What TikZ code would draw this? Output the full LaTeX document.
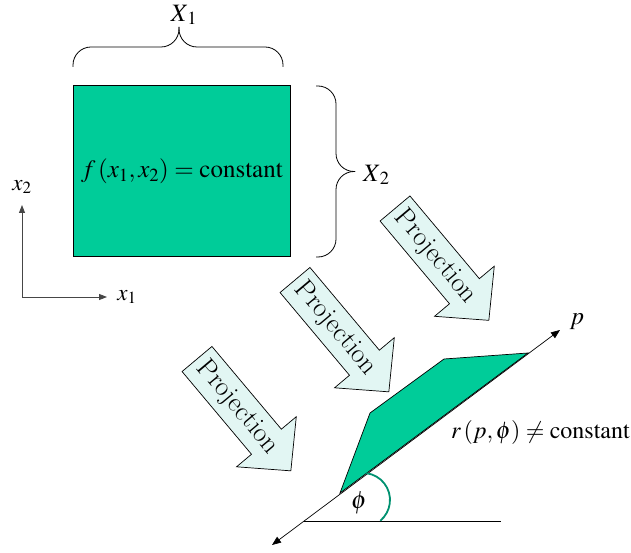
\documentclass[tikz,border=0pt]{standalone}
\usepackage{mathptmx}
\usetikzlibrary{arrows.meta}
\definecolor{slabgreen}{RGB}{0, 204, 153}
\definecolor{arcgreen}{RGB}{0, 145, 112}
\definecolor{projfill}{RGB}{226, 246, 243}
\definecolor{axisgray}{RGB}{70, 70, 70}

\begin{document}
\begin{tikzpicture}[x=1pt, y=1pt,
  lbl/.style={inner sep=0pt, font=\fontsize{25}{30}\selectfont},
  smalllbl/.style={inner sep=0pt, font=\fontsize{23}{27}\selectfont},
  projtext/.style={inner sep=0pt, font=\fontsize{27.5}{32}\selectfont},
  bracecurve/.style={rounded corners=18pt, line width=0.8pt},
  projarrow/.style={draw, line width=0.7pt, fill=projfill},
  axisarrow/.style={axisgray, line width=0.9pt, -{Triangle[length=8pt, width=6pt]}},
  projline/.style={line width=0.7pt, {Triangle[length=9pt, width=7pt]}-{Triangle[length=9pt, width=7pt]}}]
  \useasboundingbox (0,0) rectangle (631,552);

  % object and its extents
  \node[draw, line width=0.8pt, fill=slabgreen, minimum width=217pt, minimum height=171pt, inner sep=0pt, anchor=south west] (slab) at (73,295) {};
  \node[lbl] (fval) at (slab.center) {$f\,(x_1, x_2) = \mathrm{constant}$};
  \draw[bracecurve] (73,485) -- (73,505) -- (179,505) -- (179,525);
  \draw[bracecurve] (179,525) -- (179,505) -- (283,505) -- (283,485);
  \node[lbl] (xone) at (184,537) {$X_{\,1}$};
  \draw[bracecurve] (316,466) -- (336,466) -- (336,380.5) -- (355,380.5);
  \draw[bracecurve] (355,380.5) -- (336,380.5) -- (336,295) -- (316,295);
  \node[lbl, anchor=west] (xtwo) at (363,377) {$X_{\,2}$};

  % axes
  \coordinate (orig) at (22,255);
  \coordinate (xend) at (107,255);
  \coordinate (yend) at (22,347);
  \draw[axisarrow] (orig) -- (xend);
  \draw[axisarrow] (orig) -- (yend);
  \node[smalllbl] (xlbl) at (127,255) {$x_1$};
  \node[smalllbl] (ylbl) at (22,365) {$x_2$};

  % projection arrows
  \foreach \i/\tx/\ty in {1/395/343.5, 2/295/272, 3/197/193} {
    \begin{scope}[shift={(\tx,\ty)}, rotate=-50]
      \draw[projarrow] (0,19.5) -- (108,19.5) -- (108,39) -- (146,0) -- (108,-39) -- (108,-19.5) -- (0,-19.5) -- cycle;
      \node[projtext, rotate=-50] (proj\i) at (63,0) {Projection};
    \end{scope}
  }

  % projected profile
  \coordinate (porig) at (304,31);
  \coordinate (pneg) at (272,7);
  \coordinate (ppos) at (560,222);
  \coordinate (hend) at (501,31);
  \draw[fill=slabgreen, line width=0.7pt] (340,59) -- (370,139) -- (444,193) -- (528,199) -- cycle;
  \draw[projline] (pneg) -- (ppos);
  \draw[line width=0.7pt] (porig) -- (hend);
  \draw[arcgreen, line width=1.8pt] (363,52) ++(83:27) arc[start angle=83, end angle=-50, radius=27];
  \node[lbl] (philbl) at (359,49) {$\phi$};
  \node[lbl] (plbl) at (577,230) {$p$};
  \node[lbl, font=\fontsize{24}{28}\selectfont, anchor=east] (rlbl) at (630,120) {$r\,(p,\phi) \neq \mathrm{constant}$};
\end{tikzpicture}
\end{document}
